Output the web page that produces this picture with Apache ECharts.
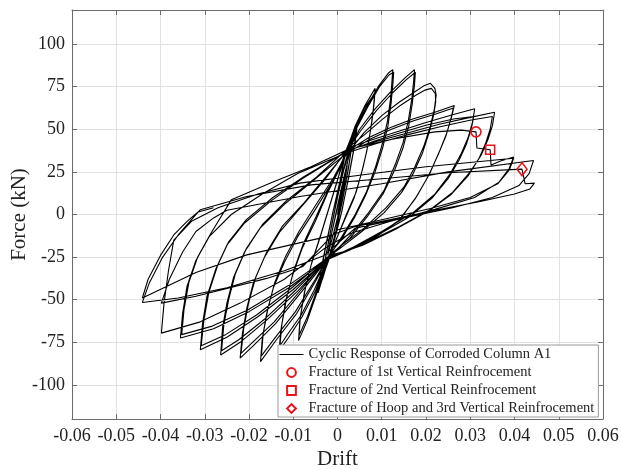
<!DOCTYPE html>
<html>
<head>
<meta charset="utf-8">
<script src="https://cdn.jsdelivr.net/npm/echarts@6/dist/echarts.min.js"></script>
<style>html,body{margin:0;padding:0;background:#fff}#c{width:621px;height:469px}</style>
</head>
<body>
<div id="c"></div>
<script>
// ---- data: [drift, force(kN)], cycle by cycle ----
const cycle0a = [[0,0],[0.001,14],[0.0022,30],[0.0015,18],[0.0,-2],[-0.0012,-14],[-0.0022,-24],[-0.0015,-13],[0.0,4],[0.0012,18]];
const cycle0b = [[0.0022,29],[0.0015,17],[0.0,-3],[-0.0022,-23],[-0.0014,-12],[0.0,5],[0.0012,19]];
const cycle0c = [[0.0033,42],[0.0027,31],[0.0014,12],[-0.0002,-8],[-0.0016,-22],[-0.0033,-37],[-0.0028,-27],[-0.0015,-9],[0.0,10],[0.0014,26]];
const cycle0d = [[0.0034,43],[0.0026,29],[0.0012,9],[-0.0004,-10],[-0.0018,-24],[-0.0034,-38],[-0.0027,-25],[-0.0013,-6],[0.0002,13],[0.0016,29]];
const cycle1a = [[0.0025,36],[0.0044,52],[0.0038,40],[0.0025,22],[0.001,2],[-0.0005,-12],[-0.002,-26],[-0.0044,-46],[-0.0038,-34],[-0.0025,-17],[-0.001,2],[0.0005,18],[0.002,33]];
const cycle1b = [[0.0044,50],[0.0037,38],[0.0024,20],[0.0008,0],[-0.0006,-14],[-0.002,-27],[-0.0044,-44],[-0.0037,-32],[-0.0024,-15],[-0.0009,3],[0.0006,20],[0.0018,36]];
const cycle2a = [[0.004,52],[0.0062,64],[0.0085,74],[0.0083,66],[0.0078,55],[0.007,42],[0.0058,28],[0.0042,13],[0.002,0],[0.0,-13],[-0.0018,-24],[-0.0045,-45],[-0.0068,-62],[-0.0088,-74],[-0.0085,-62],[-0.0075,-46],[-0.006,-30],[-0.004,-14],[-0.002,3],[0.0,20],[0.0015,35]];
const cycle2b = [[0.004,51],[0.0062,63],[0.0084,71],[0.0081,62],[0.0075,50],[0.0066,37],[0.0054,24],[0.0038,10],[0.0018,-2],[-0.0002,-14],[-0.0015,-22],[-0.0046,-44],[-0.0068,-60],[-0.0087,-71],[-0.0084,-60],[-0.0073,-44],[-0.0058,-28],[-0.0038,-12],[-0.0018,5],[0.0002,22],[0.0022,38]];
const cycle3a = [[0.004,50],[0.0065,63],[0.0092,75],[0.0115,83],[0.0125,85],[0.0123,78],[0.012,68],[0.0113,55],[0.0102,42],[0.0086,28],[0.0065,13],[0.004,0],[0.001,-13],[-0.0022,-26],[-0.005,-45],[-0.008,-60],[-0.011,-72],[-0.0132,-80],[-0.0128,-68],[-0.0118,-52],[-0.0102,-36],[-0.008,-20],[-0.005,-4],[-0.002,14],[0.0005,27],[0.0025,39]];
const cycle3b = [[0.0042,50],[0.0068,63],[0.0095,75],[0.0117,82],[0.0127,83.5],[0.0125,76],[0.0121,65],[0.0114,52],[0.0102,39],[0.0085,25],[0.0063,11],[0.0038,-2],[0.0008,-15],[-0.0017,-23],[-0.0052,-44],[-0.0082,-59],[-0.0112,-70],[-0.013,-77],[-0.0126,-65],[-0.0115,-49],[-0.0099,-33],[-0.0077,-17],[-0.0048,-1],[-0.0018,16],[0.0006,28],[0.0019,35]];
const cycle4a = [[0.005,50],[0.0085,62],[0.012,72],[0.0152,80],[0.0174,85],[0.0172,78],[0.0168,68],[0.016,55],[0.0148,42],[0.013,29],[0.0105,14],[0.007,1],[0.003,-12],[-0.0025,-27],[-0.0047,-38],[-0.0092,-58],[-0.0138,-73.5],[-0.0174,-86.3],[-0.017,-73],[-0.016,-58],[-0.0145,-43],[-0.012,-28],[-0.009,-13],[-0.005,3],[-0.001,20],[0.0023,38]];
const cycle4b = [[0.0052,49],[0.0088,61],[0.0123,71],[0.0155,79],[0.0176,83.5],[0.0174,76],[0.0169,65],[0.0161,52],[0.0148,39],[0.0129,26],[0.0103,12],[0.0068,-1],[0.0028,-14],[-0.0019,-24],[-0.005,-38],[-0.0095,-57],[-0.014,-72],[-0.0172,-83],[-0.0168,-70],[-0.0157,-55],[-0.0142,-40],[-0.0118,-25],[-0.0087,-10],[-0.0048,6],[-0.0008,22],[0.0017,34]];
const cycle5a = [[0.006,48],[0.010,58],[0.014,66],[0.0175,72],[0.0195,75.5],[0.021,77],[0.022,74],[0.0223,70],[0.0219,62],[0.021,52],[0.0195,40],[0.0175,28],[0.015,16],[0.011,4],[0.006,-8],[0.001,-18],[-0.0028,-28],[-0.008,-45],[-0.014,-64],[-0.019,-77],[-0.022,-84.3],[-0.0215,-70],[-0.0205,-55],[-0.019,-40],[-0.0165,-25],[-0.013,-10],[-0.008,5],[-0.003,20],[0.0028,40]];
const cycle5b = [[0.0062,47],[0.0102,56],[0.0142,64],[0.0177,70],[0.0198,73],[0.0212,74],[0.0221,71],[0.0222,66],[0.0217,58],[0.0207,48],[0.0192,36],[0.0171,24],[0.0145,13],[0.0105,1],[0.0055,-10],[0.0005,-20],[-0.0021,-25],[-0.0082,-44],[-0.0143,-63],[-0.0192,-75],[-0.0218,-81.5],[-0.0212,-67],[-0.0201,-52],[-0.0185,-37],[-0.016,-22],[-0.0125,-7],[-0.0075,7],[-0.0027,22],[0.0021,37]];
const cycle6a = [[0.007,45],[0.012,51],[0.017,56],[0.022,60],[0.0264,64],[0.0258,57.5],[0.0247,47.8],[0.0232,38],[0.0209,24.3],[0.0179,10.6],[0.0141,-3],[0.008,-14],[0.002,-21],[-0.0026,-27],[-0.009,-45],[-0.016,-62],[-0.022,-75],[-0.0264,-82.4],[-0.026,-67],[-0.025,-52],[-0.0235,-37],[-0.021,-22],[-0.0175,-8],[-0.012,6],[-0.005,21],[0.0016,35]];
const cycle6b = [[0.0072,44],[0.0122,50],[0.0172,55],[0.0222,59],[0.0262,62.5],[0.0256,56],[0.0245,46],[0.0229,36],[0.0205,22.5],[0.0175,9],[0.0137,-4],[0.0077,-15],[0.0018,-22],[-0.0016,-24],[-0.0093,-44],[-0.0163,-61],[-0.0223,-73.5],[-0.0262,-80],[-0.0257,-65],[-0.0246,-50],[-0.0231,-35],[-0.0206,-20],[-0.017,-6],[-0.0116,8],[-0.0047,22],[0.0024,39]];
const cycle7a = [[0.008,44],[0.014,49],[0.020,54],[0.026,58.5],[0.031,62],[0.0305,54],[0.0295,45],[0.028,36],[0.0255,24],[0.022,12],[0.017,1],[0.010,-10],[0.003,-20],[-0.0023,-26],[-0.010,-44],[-0.018,-60],[-0.025,-72],[-0.031,-79.4],[-0.0305,-64],[-0.0295,-48],[-0.0275,-32],[-0.025,-18],[-0.021,-5],[-0.015,8],[-0.008,21],[0.002,37]];
const cycle7b = [[0.0082,43],[0.0142,48],[0.0202,52.5],[0.0262,56],[0.0308,57.5],[0.0302,50],[0.0291,41],[0.0275,32],[0.025,21],[0.0215,10],[0.0165,-1],[0.0095,-11.5],[0.0027,-21],[-0.0018,-24],[-0.0103,-43],[-0.0183,-59],[-0.0253,-70.5],[-0.0308,-77],[-0.0302,-62],[-0.0291,-46],[-0.0271,-30],[-0.0246,-16],[-0.0206,-3],[-0.0146,10],[-0.0077,22],[0.0026,38]];
const cycle8a = [[0.009,43],[0.016,48],[0.023,53],[0.030,57],[0.0355,60],[0.035,52],[0.034,44],[0.0325,35],[0.030,25],[0.026,13],[0.021,3],[0.014,-7],[0.006,-17],[-0.0027,-27],[-0.011,-43],[-0.020,-57],[-0.028,-67],[-0.0355,-72.5],[-0.035,-58],[-0.034,-42],[-0.032,-27],[-0.029,-13],[-0.024,0],[-0.017,12],[-0.009,24],[0.0018,36]];
const cycle8b = [[0.0092,42],[0.0162,47],[0.0232,51.5],[0.0302,55.5],[0.035,57.5],[0.0345,50],[0.0335,42],[0.032,33],[0.0296,23],[0.0256,11.5],[0.0206,2],[0.0136,-8],[0.0057,-18],[-0.002,-25],[-0.0113,-42],[-0.0203,-56],[-0.0283,-65.5],[-0.0352,-70.5],[-0.0347,-56],[-0.0336,-40],[-0.0316,-25],[-0.0286,-11],[-0.024,8.6],[-0.015,18.6],[-0.006,28],[0.0022,38]];
const cycle9a = [[0.012,44],[0.022,48.5],[0.028,49.5],[0.0313,48.5],[0.0315,39],[0.0345,38],[0.0347,29],[0.037,31.5],[0.0398,33.7],[0.0388,27],[0.0365,19],[0.031,10],[0.022,3],[0.012,-4],[0.003,-11],[-0.003,-20],[-0.012,-38],[-0.022,-52],[-0.031,-63],[-0.0398,-69.6],[-0.0392,-52],[-0.0382,-33],[-0.037,-15],[-0.033,-4],[-0.027,4],[-0.018,12],[-0.0085,18.4],[0.005,23],[0.02,28],[0.0398,33]];
const cycle9b = [[0.0388,26],[0.0362,18],[0.030,10],[0.021,3.5],[0.011,-2.5],[0.0,-9],[-0.004,-20],[-0.0078,-30.5],[-0.016,-37.5],[-0.0243,-43],[-0.032,-48],[-0.0398,-52],[-0.038,-38],[-0.035,-22],[-0.032,-10],[-0.028,-2],[-0.025,2.5],[-0.0085,10.6],[0.01,18],[0.025,25],[0.0443,31.7]];
const cycle10a = [[0.0433,24],[0.041,17],[0.035,10],[0.026,4],[0.015,-2],[0.004,-8],[-0.003,-24],[-0.012,-33],[-0.025,-43],[-0.036,-49],[-0.0441,-51.6],[-0.0425,-40],[-0.0395,-25],[-0.036,-12],[-0.033,-3],[-0.031,2.8],[-0.0205,10.6],[-0.006,17.4],[0.01,21],[0.025,24.5],[0.0417,26.6],[0.0424,18],[0.0445,18.4]];
const cycle10b = [[0.0435,15],[0.04,12],[0.032,7.5],[0.022,2.5],[0.012,-3],[0.004,-7],[-0.0024,-13],[-0.0205,-23.7],[-0.032,-34],[-0.0441,-49],[-0.0428,-38],[-0.040,-24],[-0.037,-12],[-0.034,-4],[-0.0315,1.5],[-0.028,4]];

const fracture1 = [[0.0313, 48.5]];
const fracture2 = [[0.0345, 38]];
const fracture3 = [[0.0417, 26.6]];

const xTicks = [-0.06,-0.05,-0.04,-0.03,-0.02,-0.01,0,0.01,0.02,0.03,0.04,0.05,0.06];
const yTicks = [-100,-75,-50,-25,0,25,50,75,100];

const names = ['Cyclic Response of Corroded Column A1','Fracture of 1st Vertical Reinfrocement','Fracture of 2nd Vertical Reinfrocement','Fracture of Hoop and 3rd Vertical Reinfrocement'];

const path = [].concat(cycle0a,cycle0b,cycle0c,cycle0d,cycle1a,cycle1b,cycle2a,cycle2b,cycle3a,cycle3b,cycle4a,cycle4b,cycle5a,cycle5b,cycle6a,cycle6b,cycle7a,cycle7b,cycle8a,cycle8b,cycle9a,cycle9b,cycle10a,cycle10b);

const FONT = 'Liberation Serif';
const axisCol = '#6b6b6b';
const gridCol = '#e2e2e2';
const RED = '#e8141c';

const chart = echarts.init(document.getElementById('c'), null, {renderer:'canvas'});
const fmtX = v => { const r = Math.round(v*100)/100; return r === 0 ? '0' : String(r); };

function marker(name, data, sym, size) {
  return {name: name, type:'line', data: data, symbol: sym, symbolSize: size, showSymbol: true,
    lineStyle:{width:0, opacity:0}, itemStyle:{color:'rgba(255,255,255,0)', borderColor:RED, borderWidth:1.6}, z:5};
}

chart.setOption({
  animation: false,
  backgroundColor: '#fff',
  grid: {left: 72, right: 18, top: 10, bottom: 50, containLabel: false, outerBoundsMode: 'none'},
  xAxis: [
    {type:'value', min: xTicks[0], max: xTicks[xTicks.length-1], interval: 0.01, position:'bottom',
     axisLine:{show:true, onZero:false, lineStyle:{color:axisCol, width:1}},
     axisTick:{show:true, inside:true, length:5, lineStyle:{color:axisCol}},
     axisLabel:{fontFamily:FONT, fontSize:18, color:'#222', margin:8, formatter: fmtX},
     splitLine:{show:true, lineStyle:{color:gridCol, width:1}},
     name:'Drift', nameLocation:'middle', nameGap:30, nameMoveOverlap:false,
     nameTextStyle:{fontFamily:FONT, fontSize:21, color:'#222'}},
    {type:'value', min: xTicks[0], max: xTicks[xTicks.length-1], interval: 0.01, position:'top',
     axisLine:{show:true, onZero:false, lineStyle:{color:axisCol, width:1}},
     axisTick:{show:true, inside:true, length:5, lineStyle:{color:axisCol}},
     axisLabel:{show:false}, splitLine:{show:false}}
  ],
  yAxis: [
    {type:'value', min:-120, max:120, position:'left',
     axisLine:{show:true, onZero:false, lineStyle:{color:axisCol, width:1}},
     axisTick:{show:true, inside:true, length:5, lineStyle:{color:axisCol}, customValues: yTicks},
     axisLabel:{fontFamily:FONT, fontSize:18, color:'#222', margin:7, customValues: yTicks},
     splitLine:{show:true, lineStyle:{color:gridCol, width:1}},
     name:'Force (kN)', nameLocation:'middle', nameGap:42, nameMoveOverlap:false,
     nameTextStyle:{fontFamily:FONT, fontSize:21, color:'#222'}},
    {type:'value', min:-120, max:120, position:'right',
     axisLine:{show:true, onZero:false, lineStyle:{color:axisCol, width:1}},
     axisTick:{show:true, inside:true, length:5, lineStyle:{color:axisCol}, customValues: yTicks},
     axisLabel:{show:false, customValues: yTicks}, splitLine:{show:false}}
  ],
  legend: {
    orient:'vertical', left:278, top:345,
    backgroundColor:'#fff', borderColor:'#9a9a9a', borderWidth:1, borderRadius:0,
    padding:[2,4,1,1], itemGap:3, itemWidth:24, itemHeight:11,
    textStyle:{fontFamily:FONT, fontSize:14.5, color:'#222', lineHeight:14},
    data: [
      {name: names[0], itemStyle:{opacity:0, color:'rgba(0,0,0,0)', borderWidth:0}, lineStyle:{width:1, color:'#000'}},
      names[1], names[2], names[3]
    ]
  },
  series: [
    {name: names[0], type:'line', data: path, symbol:'none', showSymbol:false,
     lineStyle:{color:'#000', width:1.1}, itemStyle:{color:'#000'}, z:2, clip:true},
    marker(names[1], fracture1, 'circle', 10),
    marker(names[2], fracture2, 'rect', 9),
    marker(names[3], fracture3, 'diamond', [10,13])
  ]
});
</script>
</body>
</html>
